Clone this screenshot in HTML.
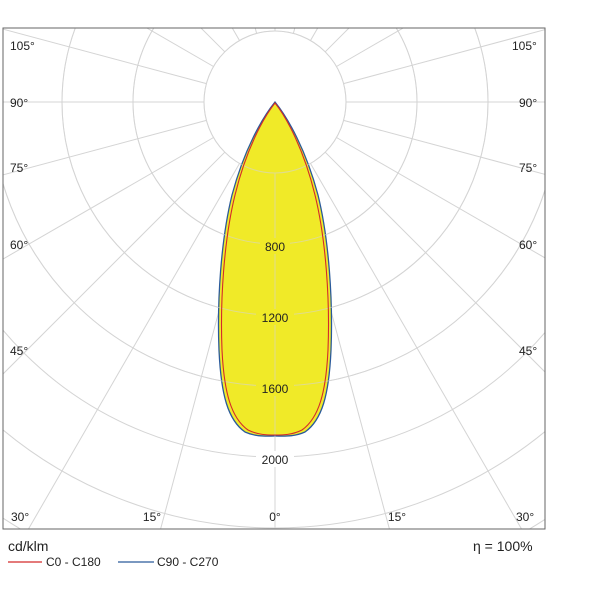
<!DOCTYPE html>
<html><head><style>html,body{margin:0;width:600px;height:600px;overflow:hidden;background:#fff}svg{display:block}text{font-family:"Liberation Sans",sans-serif;font-size:12px;fill:#222}</style></head>
<body>
<svg width="600" height="600" viewBox="0 0 600 600" xmlns="http://www.w3.org/2000/svg">
<defs><clipPath id="c"><rect x="3" y="28" width="542" height="501"/></clipPath></defs>
<g clip-path="url(#c)" stroke="#d4d4d4" stroke-width="1" fill="none">
<circle cx="275" cy="102" r="71"/>
<circle cx="275" cy="102" r="142"/>
<circle cx="275" cy="102" r="213"/>
<circle cx="275" cy="102" r="284"/>
<circle cx="275" cy="102" r="355"/>
<circle cx="275" cy="102" r="426"/>
<circle cx="275" cy="102" r="497"/>
<circle cx="275" cy="102" r="568"/>
<line x1="275" y1="173" x2="275" y2="800"/>
<line x1="275" y1="173" x2="275" y2="800" transform="rotate(15 275 102)"/>
<line x1="275" y1="173" x2="275" y2="800" transform="rotate(30 275 102)"/>
<line x1="275" y1="173" x2="275" y2="800" transform="rotate(45 275 102)"/>
<line x1="275" y1="173" x2="275" y2="800" transform="rotate(60 275 102)"/>
<line x1="275" y1="173" x2="275" y2="800" transform="rotate(75 275 102)"/>
<line x1="275" y1="173" x2="275" y2="800" transform="rotate(90 275 102)"/>
<line x1="275" y1="173" x2="275" y2="800" transform="rotate(105 275 102)"/>
<line x1="275" y1="173" x2="275" y2="800" transform="rotate(120 275 102)"/>
<line x1="275" y1="173" x2="275" y2="800" transform="rotate(135 275 102)"/>
<line x1="275" y1="173" x2="275" y2="800" transform="rotate(150 275 102)"/>
<line x1="275" y1="173" x2="275" y2="800" transform="rotate(165 275 102)"/>
<line x1="275" y1="173" x2="275" y2="800" transform="rotate(180 275 102)"/>
<line x1="275" y1="173" x2="275" y2="800" transform="rotate(-15 275 102)"/>
<line x1="275" y1="173" x2="275" y2="800" transform="rotate(-30 275 102)"/>
<line x1="275" y1="173" x2="275" y2="800" transform="rotate(-45 275 102)"/>
<line x1="275" y1="173" x2="275" y2="800" transform="rotate(-60 275 102)"/>
<line x1="275" y1="173" x2="275" y2="800" transform="rotate(-75 275 102)"/>
<line x1="275" y1="173" x2="275" y2="800" transform="rotate(-90 275 102)"/>
<line x1="275" y1="173" x2="275" y2="800" transform="rotate(-105 275 102)"/>
<line x1="275" y1="173" x2="275" y2="800" transform="rotate(-120 275 102)"/>
<line x1="275" y1="173" x2="275" y2="800" transform="rotate(-135 275 102)"/>
<line x1="275" y1="173" x2="275" y2="800" transform="rotate(-150 275 102)"/>
<line x1="275" y1="173" x2="275" y2="800" transform="rotate(-165 275 102)"/>
</g>
<path d="M275,102 C262,118 244,150 232,195 C221,240 217,300 219,350 C221,395 228,420 245,432 C256,437 266,436 275,436 C284,436 294,437 305,432 C322,420 329,395 331,350 C333,300 329,240 318,195 C306,150 288,118 275,102 Z" fill="#f0ea28" stroke="#2a5a9a" stroke-width="1.3"/>
<g clip-path="url(#c)" stroke="#d4d4d4" fill="none" opacity="0.6">
<circle cx="275" cy="102" r="71"/><circle cx="275" cy="102" r="142"/><circle cx="275" cy="102" r="213"/><circle cx="275" cy="102" r="284"/>
<line x1="275" y1="173" x2="275" y2="440"/>
</g>
<path d="M275,103 C263,118 246,150 235,195 C224,240 220,300 222,350 C224,392 231,418 248,430 C258,435 267,435 275,435 C283,435 292,435 302,430 C319,418 326,392 328,350 C330,300 326,240 315,195 C304,150 287,118 275,103 Z" fill="none" stroke="#d42a2a" stroke-width="1.1"/>
<rect x="3" y="28" width="542" height="501" fill="none" stroke="#666" stroke-width="1"/>
<g text-anchor="middle">
<rect x="260" y="238" width="30" height="16" fill="#f0ea28"/><text x="275" y="251">800</text>
<rect x="256" y="309" width="38" height="16" fill="#f0ea28"/><text x="275" y="322">1200</text>
<rect x="256" y="380" width="38" height="16" fill="#f0ea28"/><text x="275" y="393">1600</text>
<rect x="256" y="451" width="38" height="16" fill="#fff"/><text x="275" y="464">2000</text>
<text x="275" y="521">0°</text><text x="152" y="521">15°</text><text x="397" y="521">15°</text>
</g>
<text x="11" y="521">30°</text><text x="516" y="521">30°</text>
<text x="10" y="50">105°</text><text x="512" y="50">105°</text>
<text x="10" y="107">90°</text><text x="519" y="107">90°</text>
<text x="10" y="172">75°</text><text x="519" y="172">75°</text>
<text x="10" y="249">60°</text><text x="519" y="249">60°</text>
<text x="10" y="355">45°</text><text x="519" y="355">45°</text>
<text x="8" y="551" style="font-size:14px">cd/klm</text>
<text x="473" y="551" style="font-size:14px">η = 100%</text>
<line x1="8" y1="562" x2="42" y2="562" stroke="#d42a2a" stroke-width="1.2"/>
<text x="46" y="566">C0 - C180</text>
<line x1="118" y1="562" x2="154" y2="562" stroke="#2a5a9a" stroke-width="1.2"/>
<text x="157" y="566">C90 - C270</text>
</svg>
</body></html>
